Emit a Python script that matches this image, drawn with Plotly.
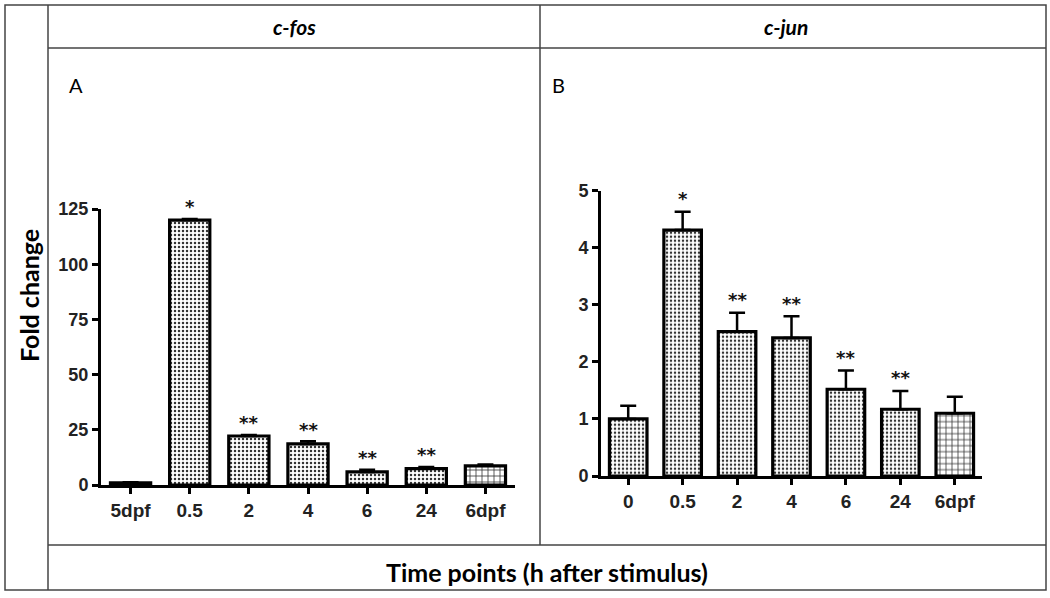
import plotly.graph_objects as go

# ---- data ----
fos_labels = ["5dpf", "0.5", "2", "4", "6", "24", "6dpf"]
fos_values = [1.0, 120.0, 22.2, 18.6, 5.9, 7.4, 8.7]
fos_errors = [0.3, 0.5, 0.5, 1.2, 1.0, 0.8, 0.6]
fos_signif = ["", "*", "**", "**", "**", "**", ""]

jun_labels = ["0", "0.5", "2", "4", "6", "24", "6dpf"]
jun_values = [1.0, 4.31, 2.53, 2.42, 1.52, 1.17, 1.10]
jun_errors = [0.23, 0.32, 0.33, 0.38, 0.33, 0.32, 0.29]
jun_signif = ["", "*", "**", "**", "**", "**", ""]

fos_ticks = [0, 25, 50, 75, 100, 125]
jun_ticks = [0, 1, 2, 3, 4, 5]

W, H = 1050, 598
def px(x):
    return x / W
def py(y):
    return 1 - y / H

TICKFONT = "Liberation Sans, Arial, sans-serif"
TXTFONT = "Lato, Open Sans, sans-serif"

def patterns(n):
    shapes = ["."] * (n - 1) + ["+"]
    sizes = [4] * (n - 1) + [6]
    solid = [0.3] * (n - 1) + [0.25]
    return dict(shape=shapes, size=sizes, solidity=solid,
                fgcolor="#333333", bgcolor="white", fillmode="replace")

fig = go.Figure()

fig.add_trace(go.Bar(
    x=fos_labels, y=fos_values, width=0.68,
    marker=dict(color="white", line=dict(color="black", width=3.2),
                pattern=patterns(len(fos_labels))),
    error_y=dict(type="data", array=fos_errors, arrayminus=[0]*len(fos_errors),
                 symmetric=False, color="black", thickness=2.5, width=8),
    xaxis="x", yaxis="y", showlegend=False, hoverinfo="x+y"))

fig.add_trace(go.Bar(
    x=jun_labels, y=jun_values, width=0.69,
    marker=dict(color="white", line=dict(color="black", width=3.2),
                pattern=patterns(len(jun_labels))),
    error_y=dict(type="data", array=jun_errors, arrayminus=[0]*len(jun_errors),
                 symmetric=False, color="black", thickness=2.5, width=8),
    xaxis="x2", yaxis="y2", showlegend=False, hoverinfo="x+y"))

axis_common = dict(showline=True, linecolor="black", linewidth=3,
                   ticks="outside", ticklen=6, tickwidth=2.5, tickcolor="black",
                   showgrid=False, zeroline=False, fixedrange=True, automargin=False)

xfont = dict(family=TICKFONT, size=19, color="#222", weight="bold")
yfont = dict(family=TICKFONT, size=18, color="#222", weight="bold")

fig.update_layout(
    template="none",
    width=W, height=H, margin=dict(l=0, r=0, t=0, b=0, pad=0, autoexpand=False),
    paper_bgcolor="white", plot_bgcolor="white", bargap=0.3,
    xaxis=dict(domain=[px(101), px(515)], anchor="y", type="category",
               range=[-0.5, 6.5], tickfont=xfont, **axis_common),
    yaxis=dict(domain=[py(485), py(209)], anchor="x", range=[0, 125],
               tickvals=fos_ticks, tickfont=yfont, **axis_common),
    xaxis2=dict(domain=[px(601), px(982)], anchor="y2", type="category",
                range=[-0.5, 6.5], tickfont=xfont, **axis_common),
    yaxis2=dict(domain=[py(476), py(190.7)], anchor="x2", range=[0, 5],
                tickvals=jun_ticks, tickfont=yfont, **axis_common),
)

star_font = dict(family="DejaVu Sans", size=18, color="#111", weight="bold")
ann = []
for i, (v, e, s) in enumerate(zip(fos_values, fos_errors, fos_signif)):
    if s:
        ann.append(dict(x=i, y=v + e, xref="x", yref="y", text=s, showarrow=False,
                        xanchor="center", yanchor="middle", yshift=12, font=star_font))
for i, (v, e, s) in enumerate(zip(jun_values, jun_errors, jun_signif)):
    if s:
        ann.append(dict(x=i, y=v + e, xref="x2", yref="y2", text=s, showarrow=False,
                        xanchor="center", yanchor="middle", yshift=13, font=star_font))

def ptext(x, y, text, size, xanchor="center", angle=0):
    return dict(x=px(x), y=py(y), xref="paper", yref="paper", text=text,
                xanchor=xanchor, yanchor="middle", textangle=angle, showarrow=False,
                font=dict(family=TXTFONT, size=size, color="black"))

ann += [
    ptext(294, 27, "<b><i>c-fos</i></b>", 21),
    ptext(786, 27, "<b><i>c-jun</i></b>", 21),
    ptext(67, 85, "A", 20, xanchor="left"),
    ptext(550, 85, "B", 20, xanchor="left"),
    ptext(547, 572, "<b>Time points (h after stimulus)</b>", 25),
    ptext(29, 296, "<b>Fold change</b>", 25, angle=-90),
]
fig.update_layout(annotations=ann)

line = dict(color="#444", width=1.5)
def pline(x0, y0, x1, y1):
    return dict(type="line", xref="paper", yref="paper",
                x0=px(x0), x1=px(x1), y0=py(y0), y1=py(y1), line=line)

shapes = [
    dict(type="rect", xref="paper", yref="paper", x0=px(5), x1=px(1046),
         y0=py(5), y1=py(590), line=line),
    pline(48, 5, 48, 590),
    pline(48, 48, 1046, 48),
    pline(48, 545, 1046, 545),
    pline(540, 5, 540, 545),
]
fig.update_layout(shapes=shapes)

fig.write_html(
    "out.html",
    config={"displayModeBar": False},
    post_script="document.body.style.margin='0';document.body.style.overflow='hidden';",
)
